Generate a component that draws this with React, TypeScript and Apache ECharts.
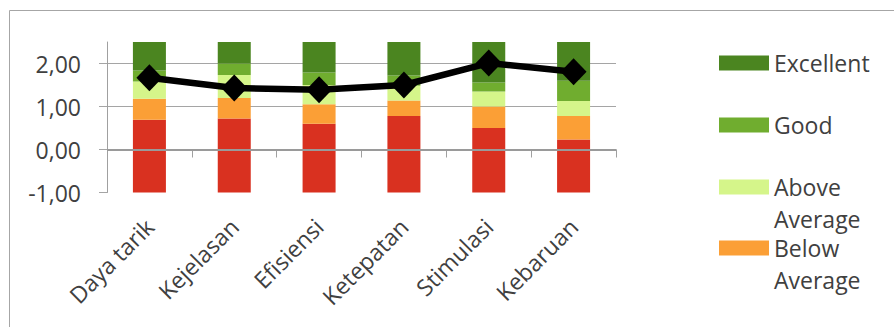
import React, { useEffect, useRef } from "react";
import * as echarts from "echarts";

const categories = ["Daya tarik", "Kejelasan", "Efisiensi", "Ketepatan", "Stimulasi", "Kebaruan"];
// benchmark upper bounds (cumulative) per category
const badTop = [0.69, 0.72, 0.6, 0.78, 0.5, 0.23];
const belowTop = [1.18, 1.2, 1.05, 1.14, 1.0, 0.78];
const aboveTop = [1.58, 1.73, 1.5, 1.48, 1.35, 1.13];
const goodTop = [1.84, 2.0, 1.79, 1.72, 1.56, 1.6];
const excellentTop = [2.5, 2.5, 2.5, 2.5, 2.5, 2.5];
const axisMin = -1;
const meanValues = [1.67, 1.43, 1.39, 1.5, 2.01, 1.81];

const FONT = "'Open Sans', sans-serif";
const TEXT = "#404040";

export default function App() {
  const ref = useRef<HTMLDivElement>(null);
  useEffect(() => {
    if (!ref.current) return;
    const chart = echarts.init(ref.current, undefined, { renderer: "svg" });
    const diff = (a: number[], b: number[]) => a.map((v, i) => +(v - b[i]).toFixed(2));
    const base = categories.map(() => axisMin);
    const bad = badTop.map((v) => +(v - axisMin).toFixed(2));
    const below = diff(belowTop, badTop);
    const above = diff(aboveTop, belowTop);
    const good = diff(goodTop, aboveTop);
    const excellent = diff(excellentTop, goodTop);

    const barCommon = {
      type: "bar",
      stack: "bench",
      stackStrategy: "all",
      barWidth: 33,
      silent: true,
    };

    const legendItem = (name: string, top: number) => ({
      left: 719,
      top,
      padding: 0,
      orient: "vertical",
      itemWidth: 50,
      itemHeight: 15,
      itemGap: 0,
      icon: "rect",
      data: [name],
      textStyle: { fontFamily: FONT, fontSize: 23, color: TEXT, lineHeight: 32 },
      formatter: (n: string) =>
        n === "Above Average" ? "\nAbove\nAverage" : n === "Below Average" ? "\nBelow\nAverage" : n,
    });

    chart.setOption({
      animation: false,
      textStyle: { fontFamily: FONT },
      graphic: [
        {
          type: "rect",
          shape: { x: 9.5, y: 10.5, width: 900, height: 400 },
          style: { fill: "none", stroke: "#a6a6a6", lineWidth: 1 },
          silent: true,
        },
      ],
      legend: [
        legendItem("Excellent", 47),
        legendItem("Good", 109),
        legendItem("Above Average", 139),
        legendItem("Below Average", 200),
      ],
      grid: { left: 107, right: 278, top: 42, bottom: 134.5, containLabel: false },
      xAxis: {
        type: "category",
        data: categories,
        boundaryGap: true,
        axisLine: { show: true, lineStyle: { color: "#a0a0a0", width: 1 } },
        axisTick: { show: true, length: 8, interval: 0, alignWithLabel: false, lineStyle: { color: "#a0a0a0" } },
        axisLabel: { rotate: 45, interval: 0, margin: 30, fontFamily: FONT, fontSize: 23, color: TEXT },
        splitLine: { show: false },
      },
      yAxis: {
        type: "value",
        min: axisMin,
        max: 2.5,
        interval: 1,
        axisLine: { show: true, lineStyle: { color: "#a0a0a0", width: 1 } },
        axisTick: { show: true, length: 8, lineStyle: { color: "#a5a5a5" } },
        axisLabel: {
          margin: 26,
          fontFamily: FONT,
          fontSize: 23,
          color: TEXT,
          showMaxLabel: false,
          formatter: (v: number) => (v > 2.2 ? "" : v.toFixed(2).replace(".", ",")),
        },
        splitLine: { show: true, showMaxLine: false, showMinLine: false, lineStyle: { color: "#a5a5a5", width: 1 } },
      },
      series: [
        {
          ...barCommon,
          name: "Base",
          data: base,
          itemStyle: { color: "transparent" },
          markLine: {
            silent: true,
            symbol: "none",
            label: { show: false },
            lineStyle: { color: "#9a9a9a", width: 2, type: "solid" },
            data: [{ yAxis: 0 }],
          },
        },
        { ...barCommon, name: "Bad", data: bad, itemStyle: { color: "#d93120" } },
        { ...barCommon, name: "Below Average", data: below, itemStyle: { color: "#fb9f36" } },
        { ...barCommon, name: "Above Average", data: above, itemStyle: { color: "#d5f58a" } },
        { ...barCommon, name: "Good", data: good, itemStyle: { color: "#70ad2f" } },
        { ...barCommon, name: "Excellent", data: excellent, itemStyle: { color: "#4b8520" } },
        {
          type: "line",
          name: "Mean",
          data: meanValues,
          symbol: "diamond",
          symbolSize: [26, 27],
          lineStyle: { color: "#000", width: 6.5 },
          itemStyle: { color: "#000" },
          z: 10,
          silent: true,
        },
      ],
    });
    return () => chart.dispose();
  }, []);
  return <div ref={ref} style={{ position: "absolute", left: 0, top: 0, width: 894, height: 327 }} />;
}
